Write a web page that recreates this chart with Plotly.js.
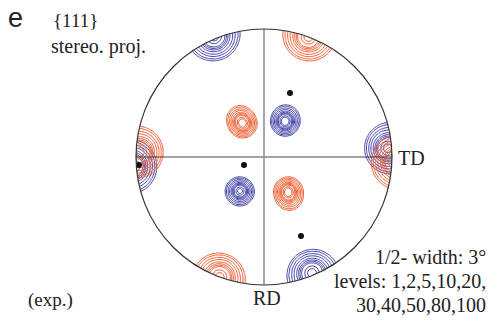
<!DOCTYPE html>
<html>
<head>
<meta charset="utf-8">
<script src="https://cdn.plot.ly/plotly-3.0.1.min.js"></script>
<style>html,body{margin:0;padding:0;background:#fff;}#chart{width:500px;height:321px;}</style>
</head>
<body>
<div id="chart"></div>
<script>
// Pole positions (stereographic projection units, unit circle = equator) and relative weights
var blueX = [0.375, 0.164, -0.1875, 0.967, 0.168];
var blueY = [-0.906, 0.273, -0.266, 0.068, 0.302];
var blueW = [1, 1, 1, 1, 0.3];
var redX = [0.347, -0.164, 0.1875, -0.969, -0.186, 0.196];
var redY = [0.938, 0.258, -0.266, 0.038, 0.296, -0.31];
var redW = [1, 1, 1, 1, 0.35, 0.35];
// Ideal orientation poles (black dots)
var dotX = [0.203, -0.156, 0.289, -0.977];
var dotY = [0.5, -0.0625, -0.617, -0.0625];
// Contour levels
var levels = [1, 2, 5, 10, 20, 30, 40, 50, 80, 100];
var peakHeight = 115;
var sigmaDeg = 3.8;

function toSphere(x, y) {
  var r2 = x * x + y * y;
  return [2 * x / (1 + r2), 2 * y / (1 + r2), (1 - r2) / (1 + r2)];
}
var N = 241, ext = 1.06;
var gx = [], gy = [];
for (var i = 0; i < N; i++) { gx.push(-ext + 2 * ext * i / (N - 1)); gy.push(-ext + 2 * ext * i / (N - 1)); }
var sig = sigmaDeg * Math.PI / 180;
function levelIndex(d) {
  if (d <= levels[0]) return d;
  for (var k = 1; k < levels.length; k++) {
    if (d <= levels[k]) return k + (d - levels[k - 1]) / (levels[k] - levels[k - 1]);
  }
  return levels.length + (d - levels[levels.length - 1]) / 20;
}
function density(px, py, pw) {
  var poles = px.map(function (x, k) { return toSphere(x, py[k]); });
  var z = [];
  for (var j = 0; j < N; j++) {
    var row = [];
    for (var i = 0; i < N; i++) {
      var v = toSphere(gx[i], gy[j]);
      var d = 0;
      for (var k = 0; k < poles.length; k++) {
        var p = poles[k];
        var c = Math.abs(v[0] * p[0] + v[1] * p[1] + v[2] * p[2]);
        if (c > 1) c = 1;
        var a = Math.acos(c);
        d += pw[k] * peakHeight * Math.exp(-a * a / (2 * sig * sig));
      }
      row.push(levelIndex(d));
    }
    z.push(row);
  }
  return z;
}
function contourTrace(z, color) {
  return {
    type: 'contour', x: gx, y: gy, z: z,
    contours: { coloring: 'lines', start: 1, end: levels.length, size: 1 },
    colorscale: [[0, color], [1, color]], showscale: false,
    line: { width: 1, smoothing: 1 }, hoverinfo: 'skip'
  };
}
var data = [
  contourTrace(density(blueX, blueY, blueW), '#3c3ca6'),
  contourTrace(density(redX, redY, redW), '#f0582a'),
  { type: 'scatter', mode: 'markers', x: dotX, y: dotY, marker: { color: '#111', size: 6 }, hoverinfo: 'skip' }
];
// mask outside the circle
var path = 'M -3 -3 L 3 -3 L 3 3 L -3 3 Z M 1 0';
for (var t = 1; t <= 360; t++) {
  var ang = t * Math.PI / 180;
  path += ' L ' + Math.cos(ang).toFixed(5) + ' ' + Math.sin(ang).toFixed(5);
}
path += ' Z';
var shapes = [
  { type: 'path', path: path, fillcolor: '#fff', fillrule: 'evenodd', line: { width: 0 }, layer: 'above' },
  { type: 'line', x0: -1, x1: 1, y0: 0, y1: 0, line: { color: '#444', width: 1.2 }, layer: 'above' },
  { type: 'line', x0: 0, x1: 0, y0: -1, y1: 1, line: { color: '#8a8a8a', width: 1.5 }, layer: 'above' },
  { type: 'circle', x0: -1, x1: 1, y0: -1, y1: 1, line: { color: '#333', width: 1.2 }, layer: 'above' }
];
var serif = 'Liberation Serif';
function ann(text, x, y, xanchor, size, fam) {
  return { text: text, xref: 'paper', yref: 'paper', x: x / 500, y: 1 - y / 321, xanchor: xanchor, yanchor: 'middle',
    showarrow: false, font: { family: fam || serif, size: size || 20, color: '#222' } };
}
var annotations = [
  ann('e', 6, 18, 'left', 27, 'Liberation Sans'),
  ann('{111}', 51, 20, 'left', 19),
  ann('stereo. proj.', 49, 46, 'left', 20),
  ann('TD', 396, 158, 'left', 20),
  ann('RD', 267, 298, 'center', 20),
  ann('1/2- width: 3°', 488, 257, 'right', 20),
  ann('levels: 1,2,5,10,20,', 488, 281, 'right', 20),
  ann('30,40,50,80,100', 488, 305, 'right', 20),
  ann('(exp.)', 26, 300, 'left', 19)
];
var layout = {
  width: 500, height: 321, margin: { l: 0, r: 0, t: 0, b: 0 },
  paper_bgcolor: '#fff', plot_bgcolor: '#fff', showlegend: false,
  font: { family: 'Liberation Serif' },
  xaxis: { range: [-2.0625, 1.84375], visible: false, showgrid: false, zeroline: false },
  yaxis: { range: [-1.28125, 1.2266], visible: false, showgrid: false, zeroline: false },
  shapes: shapes, annotations: annotations
};
Plotly.newPlot('chart', data, layout, { staticPlot: true, displayModeBar: false });
</script>
</body>
</html>
